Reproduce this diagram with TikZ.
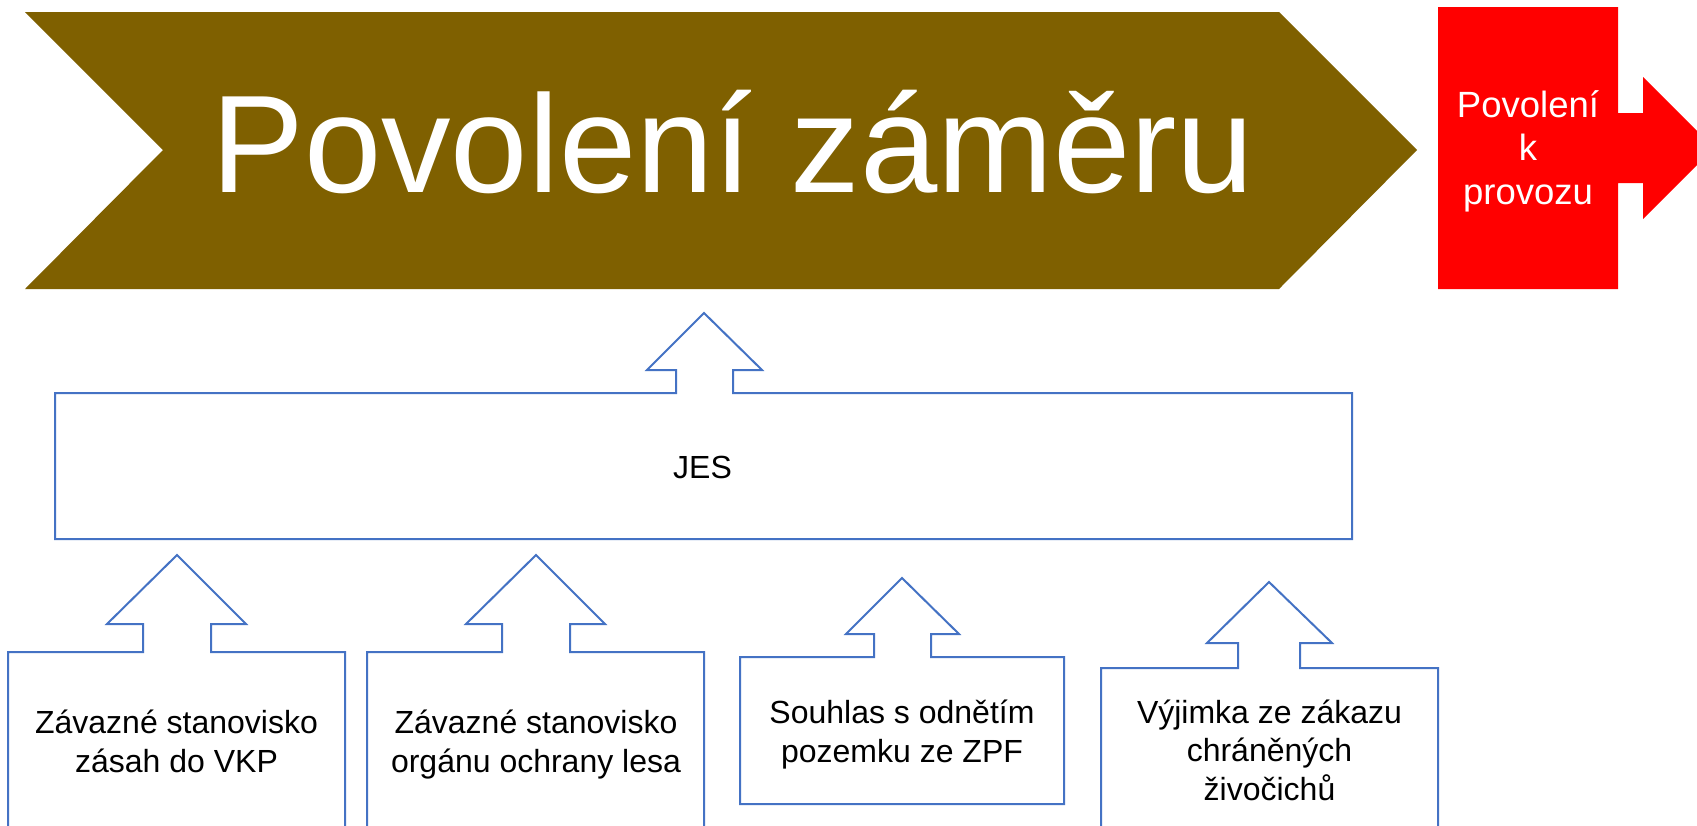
\documentclass[tikz,border=0pt]{standalone}
\usepackage{fontspec}
\setmainfont{Liberation Sans}
\definecolor{brownarrow}{HTML}{7F6000}
\definecolor{redbox}{HTML}{FF0000}
\definecolor{calloutblue}{HTML}{4472C4}
\begin{document}
\begin{tikzpicture}[x=1pt,y=-1pt,
  callout/.style={draw=calloutblue,line width=2pt,fill=white,line join=miter},
  boxtext/.style={font=\fontsize{32}{38.5}\selectfont,align=center,anchor=base,inner sep=0pt,text=black},
  redtext/.style={font=\fontsize{36.5}{43.5}\selectfont,align=center,anchor=base,inner sep=0pt,text=white},
  bigtext/.style={font=\fontsize{139}{160}\selectfont,anchor=base,inner sep=0pt,text=white}]
\useasboundingbox (0,0) rectangle (1697,825);
\clip (0,0) rectangle (1697,825);
\fill[white] (0,0) rectangle (1697,825);
% main chevron
\fill[brownarrow] (25,12) -- (1279,12) -- (1417,150) -- (1279,289) -- (25,289) -- (163,150) -- cycle;
\node[bigtext] (main) at (733,192) {Povolení záměru};
% red box with right arrow
\fill[redbox] (1438,7) -- (1618,7) -- (1618,113) -- (1643,113) -- (1643,77) -- (1714,148)
  -- (1643,219) -- (1643,183) -- (1618,183) -- (1618,289) -- (1438,289) -- cycle;
\node[redtext] (provoz) at (1528,204) {Povolení\\k\\provozu};
% JES callout
\draw[callout] (55,393) -- (55,539) -- (1352,539) -- (1352,393) -- (733,393) -- (733,370)
  -- (762,370) -- (704,313) -- (647,370) -- (676,370) -- (676,393) -- cycle;
\node[boxtext] (jes) at (702.5,478) {JES};
% bottom callouts
\draw[callout] (8,845) -- (8,652) -- (143,652) -- (143,624) -- (107,624) -- (177,555)
  -- (246,624) -- (211,624) -- (211,652) -- (345,652) -- (345,845);
\node[boxtext] (vkp) at (176.5,772) {Závazné stanovisko\\zásah do VKP};
\draw[callout] (367,845) -- (367,652) -- (502,652) -- (502,624) -- (466,624) -- (536,555)
  -- (605,624) -- (570,624) -- (570,652) -- (704,652) -- (704,845);
\node[boxtext] (les) at (536,772) {Závazné stanovisko\\orgánu ochrany lesa};
\draw[callout] (740,804) -- (740,657) -- (874,657) -- (874,634) -- (846,634) -- (902,578)
  -- (959,634) -- (931,634) -- (931,657) -- (1064,657) -- (1064,804) -- cycle;
\node[boxtext] (zpf) at (902,762) {Souhlas s odnětím\\pozemku ze ZPF};
\draw[callout] (1101,845) -- (1101,668) -- (1238,668) -- (1238,643) -- (1207,643) -- (1269,582)
  -- (1332,643) -- (1300,643) -- (1300,668) -- (1438,668) -- (1438,845);
\node[boxtext] (vyj) at (1269.5,800) {Výjimka ze zákazu\\chráněných\\živočichů};
\end{tikzpicture}
\end{document}
